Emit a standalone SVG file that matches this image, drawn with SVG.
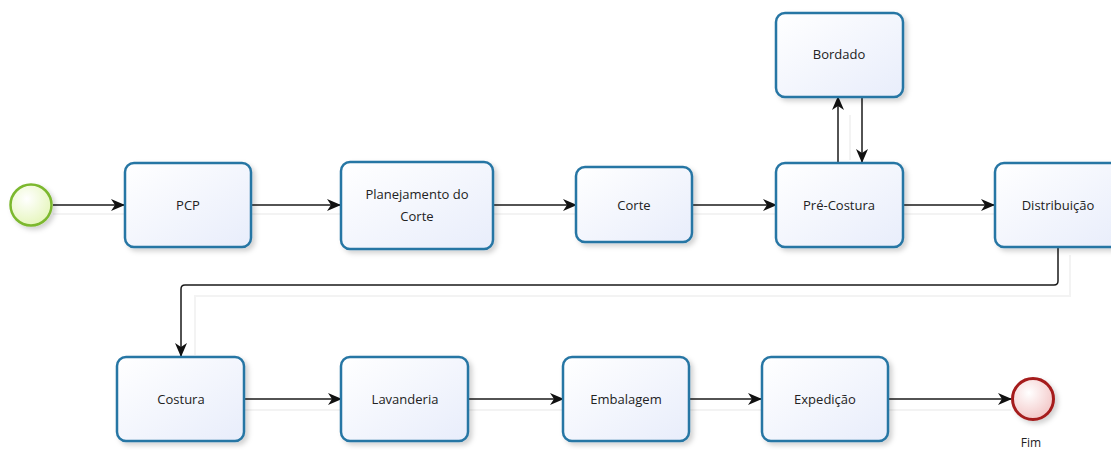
<svg xmlns="http://www.w3.org/2000/svg" width="1111" height="450" viewBox="0 0 1111 450">
<style>
.task{fill:url(#tg);stroke:#2776a4;stroke-width:2.5;filter:url(#sh)}
.lbl{font-family:"Open Sans","Noto Sans",sans-serif;font-size:13px;fill:#222;text-anchor:middle;dominant-baseline:central}
.c{fill:none;stroke:#1a1a1a;stroke-width:1.5;marker-end:url(#ah)}
.ghost{fill:none;stroke:#f3f3f3;stroke-width:2}
</style>
<defs>
<linearGradient id="tg" x1="0" y1="0" x2="1" y2="1">
<stop offset="0" stop-color="#ffffff"/>
<stop offset="1" stop-color="#e8edfb"/>
</linearGradient>
<radialGradient id="sg" cx="0.4" cy="0.35" r="0.7">
<stop offset="0" stop-color="#ffffff"/>
<stop offset="1" stop-color="#e4f5b8"/>
</radialGradient>
<radialGradient id="eg" cx="0.4" cy="0.35" r="0.7">
<stop offset="0" stop-color="#ffffff"/>
<stop offset="1" stop-color="#f2c4c4"/>
</radialGradient>
<filter id="sh" x="-20%" y="-20%" width="150%" height="150%">
<feDropShadow dx="3" dy="3" stdDeviation="2.5" flood-color="#000" flood-opacity="0.18"/>
</filter>
<marker id="ah" viewBox="0 0 14 12" refX="13" refY="6" markerWidth="14" markerHeight="12" markerUnits="userSpaceOnUse" orient="auto">
<path d="M0,0 L14,6 L0,12 L4,6 Z" fill="#111"/>
</marker>
</defs>
<g id="ghosts">
<path class="ghost" d="M53,214 H124 M251,214 H340 M493,214 H576 M692,214 H776 M903,214 H994"/>
<path class="ghost" d="M1070,255 V296 H195 V355"/>
<path class="ghost" d="M850,160 V115"/>
<path class="ghost" d="M244,410 H341 M468,410 H563 M689,410 H761 M888,410 H1011"/>
</g>
<g id="connectors">
<path class="c" d="M53,205 H124"/>
<path class="c" d="M251,205 H340"/>
<path class="c" d="M493,205 H576"/>
<path class="c" d="M692,205 H776"/>
<path class="c" d="M903,205 H994"/>
<path class="c" d="M838,162 V97"/>
<path class="c" d="M862,97 V162"/>
<path class="c" d="M1058,247 V281 Q1058,285 1054,285 H185 Q181,285 181,289 V356"/>
<path class="c" d="M244,399 H341"/>
<path class="c" d="M468,399 H563"/>
<path class="c" d="M689,399 H761"/>
<path class="c" d="M888,399 H1011"/>
</g>
<g id="start">
<circle cx="31" cy="205" r="20.5" fill="url(#sg)" stroke="#7cb82f" stroke-width="2.5" filter="url(#sh)"/>
</g>
<g id="pcp">
<rect class="task" x="125" y="163" width="126" height="84" rx="9"/>
<text class="lbl" x="188" y="205">PCP</text>
</g>
<g id="planejamento">
<rect class="task" x="341" y="162" width="152" height="87" rx="9"/>
<text class="lbl" x="417" y="194">Planejamento do</text>
<text class="lbl" x="417" y="216">Corte</text>
</g>
<g id="corte">
<rect class="task" x="576" y="167" width="116" height="75" rx="9"/>
<text class="lbl" x="634" y="205">Corte</text>
</g>
<g id="precostura">
<rect class="task" x="776" y="163" width="127" height="84" rx="9"/>
<text class="lbl" x="839" y="205">Pré-Costura</text>
</g>
<g id="bordado">
<rect class="task" x="776" y="13" width="127" height="84" rx="9"/>
<text class="lbl" x="839" y="54">Bordado</text>
</g>
<g id="distribuicao">
<rect class="task" x="995" y="163" width="127" height="84" rx="9"/>
<text class="lbl" x="1058" y="205">Distribuição</text>
</g>
<g id="costura">
<rect class="task" x="117" y="357" width="127" height="84" rx="9"/>
<text class="lbl" x="181" y="399">Costura</text>
</g>
<g id="lavanderia">
<rect class="task" x="341" y="357" width="127" height="84" rx="9"/>
<text class="lbl" x="405" y="399">Lavanderia</text>
</g>
<g id="embalagem">
<rect class="task" x="563" y="357" width="126" height="84" rx="9"/>
<text class="lbl" x="626" y="399">Embalagem</text>
</g>
<g id="expedicao">
<rect class="task" x="762" y="357" width="126" height="84" rx="9"/>
<text class="lbl" x="825" y="399">Expedição</text>
</g>
<g id="fim">
<circle cx="1033" cy="399" r="20.5" fill="url(#eg)" stroke="#a51d1d" stroke-width="3" filter="url(#sh)"/>
<text class="lbl" x="1031" y="442" style="font-size:12px">Fim</text>
</g>
</svg>
